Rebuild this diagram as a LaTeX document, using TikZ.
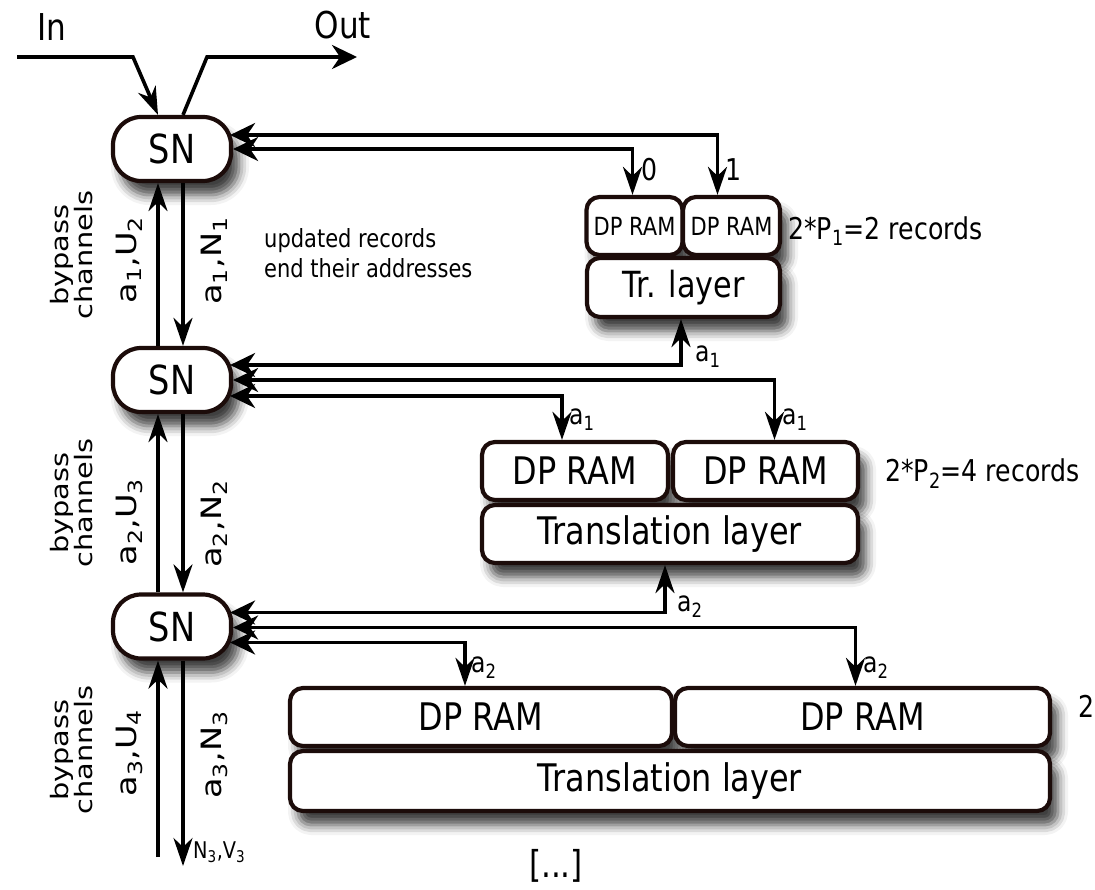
\documentclass[tikz,border=0pt]{standalone}
\usepackage{fontspec}
\setmainfont{DejaVu Sans}[FakeStretch=0.84]
\newfontfamily\rotfont{DejaVu Sans}[FakeStretch=1.2]
\usetikzlibrary{arrows.meta,calc,shadows.blur}
\definecolor{edge}{RGB}{28,12,10}
\newcommand{\fsz}[1]{\fontsize{#1}{#1}\selectfont}
\newcommand{\subs}[1]{\textsubscript{#1}}
\begin{document}
\begin{tikzpicture}[x=1pt,y=-1pt,
  box/.style={draw=edge, line width=4.2pt, rounded corners=13pt, fill=white, inner sep=0pt,
    blur shadow={shadow xshift=8pt, shadow yshift=-14pt, shadow blur radius=10pt, shadow opacity=75}},
  snbox/.style={box, rounded corners=28pt, minimum width=118pt, minimum height=64pt, font=\fsz{40}},
  vtip/.tip={Stealth[length=28pt,width=19pt,inset=9pt]},
  htip/.tip={Stealth[length=25pt,width=24pt,inset=8pt]},
  vlink/.style={line width=3.6pt, -vtip},
  hlink/.style={line width=3.6pt, -htip},
  blink/.style={line width=3.6pt, htip-vtip},
  lbl/.style={inner sep=1pt, font=\fsz{28}},
  side/.style={inner sep=0pt, font=\rotfont\fsz{28}, rotate=90},
  bypass/.style={inner sep=0pt, font=\rotfont\fsz{24}, rotate=90, align=center}
]
\useasboundingbox (0,0) rectangle (1095,890);

% switching nodes
\node[snbox] (sn1) at (172,149) {SN};
\node[snbox] (sn2) at (172,380) {SN};
\node[snbox] (sn3) at (172,626.5) {SN};

% level 1 memory
\node[box, minimum width=96pt, minimum height=58pt, font=\fsz{25}] (ra1) at (634.5,226) {DP RAM};
\node[box, minimum width=97pt, minimum height=58pt, font=\fsz{25}] (ra2) at (731.5,226) {DP RAM};
\node[box, minimum width=193pt, minimum height=59pt, font=\fsz{36}] (tr1) at (683.5,287.5) {Tr. layer};

% level 2 memory
\node[box, minimum width=186pt, minimum height=58pt, font=\fsz{38}] (rb1) at (575,471) {DP RAM};
\node[box, minimum width=185pt, minimum height=58pt, font=\fsz{38}] (rb2) at (765.5,471) {DP RAM};
\node[box, minimum width=376pt, minimum height=58pt, font=\fsz{38}] (tr2) at (670,534) {Translation layer};

% level 3 memory
\node[box, minimum width=382pt, minimum height=58pt, font=\fsz{38}] (rc1) at (481,717) {DP RAM};
\node[box, minimum width=375pt, minimum height=58pt, font=\fsz{38}] (rc2) at (862.5,717) {DP RAM};
\node[box, minimum width=760pt, minimum height=60pt, font=\fsz{38}] (tr3) at (670,781) {Translation layer};

% input / output of the tree
\node[lbl, font=\fsz{37}] (in) at (52,27) {In};
\node[lbl, font=\fsz{37}] (out) at (343,25) {Out};
\coordinate (inA) at (17,57);
\coordinate (inB) at (133,57);
\coordinate (outB) at (207,57);
\coordinate (outC) at (357,57);
\draw[vlink] (inA) -- (inB) -- ($(sn1.north)+(-14,0)$);
\draw[hlink] ($(sn1.north)+(11,0)$) -- (outB) -- (outC);

% vertical channels between the switching nodes
\draw[vlink] ($(sn2.north)+(-14,0)$) -- ($(sn1.south)+(-14,0)$);
\draw[vlink] ($(sn1.south)+(11,0)$) -- ($(sn2.north)+(11,0)$);
\draw[vlink] ($(sn3.north)+(-14,0)$) -- ($(sn2.south)+(-14,0)$);
\draw[vlink] ($(sn2.south)+(11,0)$) -- ($(sn3.north)+(11,0)$);
\coordinate (upEnd) at (158,857);
\coordinate (dnEnd) at (183,866);
\draw[vlink] (upEnd) -- ($(sn3.south)+(-14,0)$);
\draw[vlink] ($(sn3.south)+(11,0)$) -- (dnEnd);

% channel labels
\node[side] (l1u) at (129,260) {a\subs{1},U\subs{2}};
\node[side] (l1d) at (214,261) {a\subs{1},N\subs{1}};
\node[side] (l2u) at (129,522) {a\subs{2},U\subs{3}};
\node[side] (l2d) at (214,524) {a\subs{2},N\subs{2}};
\node[side] (l3u) at (129,753) {a\subs{3},U\subs{4}};
\node[side] (l3d) at (214,755) {a\subs{3},N\subs{3}};
\node[lbl, font=\fsz{23}, anchor=west] (nv) at (192,852) {N\subs{3},V\subs{3}};

\node[bypass] (bp1) at (72,255) {bypass\\channels};
\node[bypass] (bp2) at (72,503) {bypass\\channels};
\node[bypass] (bp3) at (72,750) {bypass\\channels};

\node[lbl, font=\fsz{25}, align=left, anchor=west] (upd) at (263,253) {updated records\\[5pt]end their addresses};

% level 1 links
\draw[blink] ($(sn1.east)+(-3,-14)$) -| ($(ra2.north)+(-14,0)$);
\draw[blink] ($(sn1.east)+(0,0)$) -| ($(ra1.north)+(-2,0)$);
\node[lbl, font=\fsz{30}, anchor=west] (z0) at (640,170) {0};
\node[lbl, font=\fsz{30}, anchor=west] (z1) at (724,170) {1};
\node[lbl, font=\fsz{30}, anchor=west] (rec1) at (787,231) {2*P\subs{1}=2 records};

% level 2 links
\draw[blink] ($(sn2.east)+(-3,-15)$) -| (tr1.south -| 681,0);
\draw[blink] ($(sn2.east)+(0,0)$) -| ($(rb2.north)+(9,0)$);
\draw[blink] ($(sn2.east)+(-3,16)$) -| ($(rb1.north)+(-13,0)$);
\node[lbl, anchor=west] (b0) at (694,357) {a\subs{1}};
\node[lbl, anchor=west] (b1) at (568,420) {a\subs{1}};
\node[lbl, anchor=west] (b2) at (781,420) {a\subs{1}};
\node[lbl, font=\fsz{30}, anchor=west] (rec2) at (884,474) {2*P\subs{2}=4 records};

% level 3 links
\draw[blink] ($(sn3.east)+(-3,-14)$) -| (tr2.south -| 665,0);
\draw[blink] ($(sn3.east)+(0,1)$) -| ($(rc2.north)+(-7,0)$);
\draw[blink] ($(sn3.east)+(-3,16)$) -| ($(rc1.north)+(-16,0)$);
\node[lbl, anchor=west] (c0) at (676,607) {a\subs{2}};
\node[lbl, anchor=west] (c1) at (470,668) {a\subs{2}};
\node[lbl, anchor=west] (c2) at (862,668) {a\subs{2}};
\node[lbl, font=\fsz{30}, anchor=west] (rec3) at (1077,706) {2};

\node[lbl, font=\fsz{37}] (more) at (556,866) {[...]};
\end{tikzpicture}
\end{document}
